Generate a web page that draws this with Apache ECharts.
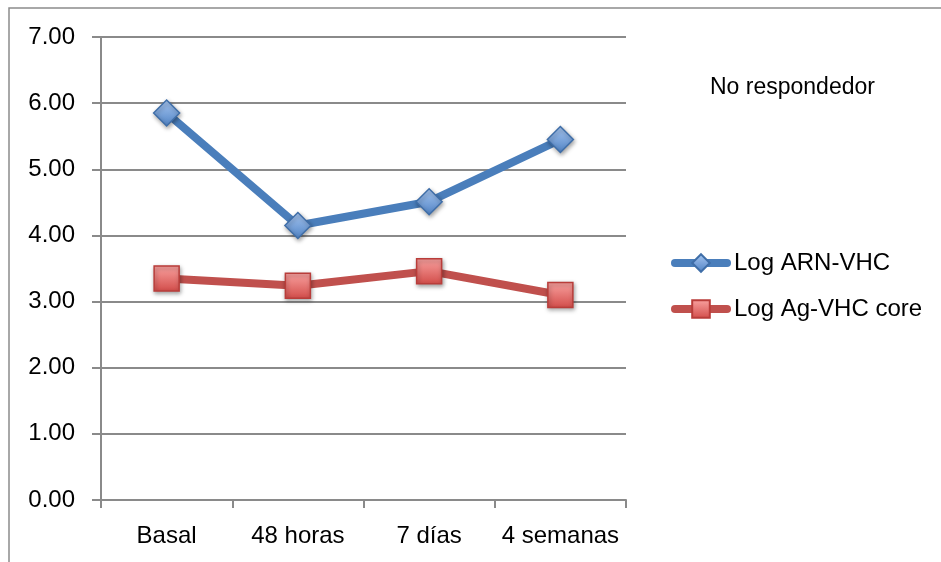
<!DOCTYPE html>
<html>
<head>
<meta charset="utf-8">
<style>
  html, body { margin: 0; padding: 0; background: #ffffff; }
  #chart { width: 941px; height: 562px; }
</style>
<script src="https://cdn.jsdelivr.net/npm/echarts@6/dist/echarts.min.js"></script>
</head>
<body>
<div id="chart"></div>
<script>
// Time points of the follow-up
var categories = ['Basal', '48 horas', '7 días', '4 semanas'];
// Log viral load (HCV RNA) and log core antigen
var logArn = [5.85, 4.15, 4.51, 5.45];
var logAg = [3.35, 3.24, 3.46, 3.10];
var seriesNames = ['Log ARN-VHC', 'Log Ag-VHC core'];
var chartTitle = 'No respondedor';

var FONT = '"Liberation Sans", Arial, sans-serif';
var GRID_COLOR = '#8a8a8a';

function grad(top, bottom) {
  return new echarts.graphic.LinearGradient(0, 0, 0, 1, [
    { offset: 0, color: top },
    { offset: 1, color: bottom }
  ]);
}

var chart = echarts.init(document.getElementById('chart'), null, { renderer: 'canvas' });

chart.setOption({
  animation: false,
  backgroundColor: '#ffffff',
  textStyle: { fontFamily: FONT },
  graphic: [
    {
      type: 'rect',
      shape: { x: 9, y: 8, width: 1000, height: 700 },
      style: { fill: 'none', stroke: '#8c8c8c', lineWidth: 1.5 },
      silent: true
    },
    {
      type: 'text',
      left: 710,
      top: 76,
      style: { text: chartTitle, font: '23px ' + FONT, fill: '#000000' }
    }
  ],
  legend: {
    orient: 'vertical',
    left: 666,
    top: 246,
    itemWidth: 52,
    itemHeight: 22,
    itemGap: 22,
    lineStyle: { width: 8, cap: 'round' },
    textStyle: { fontSize: 24, color: '#000000', fontFamily: FONT, padding: [0, 0, 0, 2] },
    data: seriesNames
  },
  grid: { left: 101, right: 315, top: 37, bottom: 62 },
  xAxis: {
    type: 'category',
    data: categories,
    boundaryGap: true,
    axisLine: { lineStyle: { color: GRID_COLOR, width: 2 } },
    axisTick: { show: true, length: 8, lineStyle: { color: GRID_COLOR, width: 2 } },
    axisLabel: { color: '#000000', fontSize: 24, margin: 24, interval: 0, fontFamily: FONT }
  },
  yAxis: {
    type: 'value',
    min: 0,
    max: 7,
    interval: 1,
    axisLine: { show: true, lineStyle: { color: GRID_COLOR, width: 2 } },
    axisTick: { show: true, length: 9, lineStyle: { color: GRID_COLOR, width: 2 } },
    splitLine: { lineStyle: { color: GRID_COLOR, width: 2 } },
    axisLabel: {
      color: '#000000',
      fontSize: 24,
      margin: 26,
      fontFamily: FONT,
      formatter: function (v) { return v.toFixed(2); }
    }
  },
  series: [
    {
      name: seriesNames[0],
      type: 'line',
      data: logArn,
      symbol: 'diamond',
      symbolSize: 26,
      lineStyle: { color: '#4a7ebb', width: 8, cap: 'round' },
      itemStyle: {
        color: grad('#a9c8f2', '#4f82c4'),
        borderColor: '#3f6ea8',
        borderWidth: 1.5,
        shadowBlur: 4,
        shadowOffsetX: 1,
        shadowOffsetY: 2,
        shadowColor: 'rgba(0,0,0,0.35)'
      },
      z: 3
    },
    {
      name: seriesNames[1],
      type: 'line',
      data: logAg,
      symbol: 'rect',
      symbolSize: 25,
      lineStyle: { color: '#c0504d', width: 8, cap: 'round' },
      itemStyle: {
        color: grad('#f9a3a1', '#d24c49'),
        borderColor: '#b93d3a',
        borderWidth: 1.5,
        shadowBlur: 4,
        shadowOffsetX: 1,
        shadowOffsetY: 2,
        shadowColor: 'rgba(0,0,0,0.35)'
      },
      z: 2
    }
  ]
});
</script>
</body>
</html>
